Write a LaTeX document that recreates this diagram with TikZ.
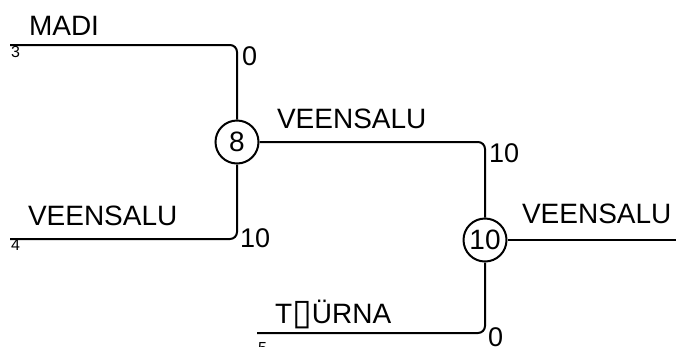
\documentclass[tikz,border=0pt]{standalone}
\usepackage{fontspec}
\setmainfont{Liberation Sans}
\newfontfamily\boxfont{DejaVu Sans}
\begin{document}
\begin{tikzpicture}[x=1pt,y=-1pt,
  line width=2pt,
  br/.style={line width=2pt, rounded corners=7pt},
  team/.style={inner sep=0pt, anchor=base west, font=\fontsize{28}{32}\selectfont},
  score/.style={inner sep=0pt, anchor=base west, font=\fontsize{27}{30}\selectfont},
  seed/.style={inner sep=0pt, anchor=base west, font=\fontsize{16}{18}\selectfont},
  res/.style={circle, draw, line width=2pt, minimum size=43pt, inner sep=0pt, font=\fontsize{28}{30}\selectfont}]
\useasboundingbox (0,0) rectangle (676,346);
% result circles
\node[res] (c8) at (237,142) {8};
\node[res] (c10) at (485,240) {10};
% free ends
\coordinate (s3) at (10,45);
\coordinate (s4) at (10,239);
\coordinate (s5) at (257,333);
\coordinate (e) at (676,240);
% connectors
\draw[br] (s3) -| (c8);
\draw[br] (s4) -| (c8);
\draw[br] (c8) -| (c10);
\draw[br] (s5) -| (c10);
\draw[br] (c10) -- (e);
% labels
\node[team] (tmadi) at (28,35) {MADI};
\node[seed] (n3) at (10,57) {3};
\node[score] (sc0a) at (241,65) {0};
\node[team] (tv1) at (276,128) {VEENSALU};
\node[score] (sc10a) at (488,162) {10};
\node[team] (tv2) at (27,225) {VEENSALU};
\node[seed] (n4) at (10,250) {4};
\node[score] (sc10b) at (239,247) {10};
\node[team] (tv3) at (521,223) {VEENSALU};
\node[team] (tt) at (274,323) {T\raisebox{-1pt}{\boxfont\fontsize{36}{38}\selectfont ▯}ÜRNA};
\node[seed] (n5) at (257,353) {5};
\node[score] (sc0b) at (487,346) {0};
\end{tikzpicture}
\end{document}
